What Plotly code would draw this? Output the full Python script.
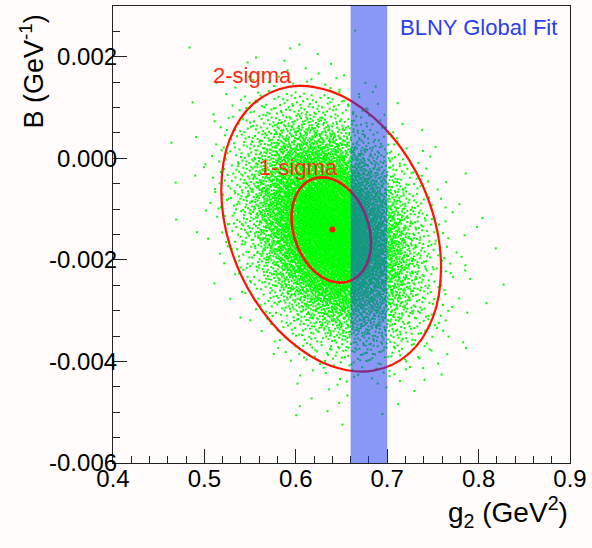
import math
import plotly.graph_objects as go

# ---------------- data ----------------
# Monte-Carlo cloud, estimated as point counts per cell (cell centres below)
G2_CELLS = [0.440, 0.465, 0.490, 0.515, 0.540, 0.565, 0.590, 0.615, 0.640,
            0.665, 0.690, 0.715, 0.740, 0.765, 0.790, 0.815, 0.840]
B_CELLS = [0.0026, 0.0021, 0.0016, 0.0011, 0.0006, 0.0001, -0.0004, -0.0009,
           -0.0014, -0.0019, -0.0024, -0.0029, -0.0034, -0.0039, -0.0044,
           -0.0049, -0.0054]
CELL_COUNTS = [
    [0, 0, 0, 0, 0, 0, 0, 0, 0, 1, 0, 0, 0, 0, 0, 0, 0],
    [0, 0, 1, 0, 1, 1, 2, 2, 1, 0, 0, 0, 0, 0, 0, 0, 0],
    [0, 0, 0, 1, 2, 4, 5, 5, 4, 2, 1, 0, 0, 0, 0, 0, 0],
    [0, 0, 1, 2, 7, 15, 22, 24, 18, 10, 4, 1, 0, 0, 0, 0, 0],
    [0, 0, 1, 5, 15, 34, 56, 66, 55, 33, 14, 4, 1, 0, 0, 0, 0],
    [0, 1, 1, 7, 25, 61, 111, 142, 130, 85, 39, 13, 3, 1, 0, 0, 0],
    [0, 1, 2, 8, 32, 87, 173, 242, 241, 171, 87, 31, 8, 2, 1, 0, 0],
    [0, 0, 1, 8, 33, 97, 210, 320, 348, 269, 149, 58, 17, 3, 1, 0, 0],
    [0, 1, 1, 6, 26, 85, 200, 332, 393, 332, 200, 85, 26, 6, 2, 1, 0],
    [0, 0, 0, 3, 17, 58, 149, 269, 348, 320, 210, 97, 33, 8, 2, 1, 0],
    [0, 0, 0, 1, 8, 31, 87, 171, 241, 242, 173, 87, 32, 8, 2, 1, 0],
    [0, 0, 0, 0, 3, 13, 39, 85, 130, 142, 111, 61, 25, 7, 2, 1, 0],
    [0, 0, 0, 0, 1, 4, 14, 33, 55, 66, 56, 34, 15, 5, 1, 0, 0],
    [0, 0, 0, 0, 0, 1, 4, 10, 18, 24, 22, 15, 7, 2, 1, 0, 0],
    [0, 0, 0, 0, 0, 0, 1, 2, 4, 5, 5, 4, 2, 1, 0, 0, 0],
    [0, 0, 0, 0, 0, 0, 1, 2, 2, 1, 1, 1, 0, 0, 0, 0, 0],
    [0, 0, 0, 0, 0, 0, 0, 0, 1, 0, 0, 0, 0, 0, 0, 0, 0],
]
CELL_W = 0.025
CELL_H = 0.0005

# contours
SIGMA2_G2 = [0.7589, 0.7498, 0.7237, 0.6847, 0.6387, 0.5927, 0.5537, 0.5276,
             0.5185, 0.5276, 0.5537, 0.5927, 0.6387, 0.6847, 0.7237, 0.7498,
             0.7589]
SIGMA2_B = [-0.002164, -0.003141, -0.003848, -0.004182, -0.004090, -0.003585,
            -0.002748, -0.001703, -0.000608, 0.000369, 0.001076, 0.001410,
            0.001318, 0.000813, -0.000024, -0.001070, -0.002164]
SIGMA1_G2 = [0.6823, 0.6790, 0.6696, 0.6554, 0.6388, 0.6222, 0.6080, 0.5986,
             0.5953, 0.5986, 0.6080, 0.6222, 0.6388, 0.6554, 0.6696, 0.6790,
             0.6823]
SIGMA1_B = [-0.001655, -0.002023, -0.002296, -0.002435, -0.002420, -0.002251,
            -0.001952, -0.001573, -0.001168, -0.000800, -0.000527, -0.000388,
            -0.000404, -0.000575, -0.000871, -0.001251, -0.001655]
BEST_G2 = [0.640]
BEST_B = [-0.0014]
BAND_G2 = [0.66, 0.70]

X_TICKS = [0.4, 0.5, 0.6, 0.7, 0.8, 0.9]
X_TICKTEXT = ["0.4", "0.5", "0.6", "0.7", "0.8", "0.9"]
Y_TICKS = [-0.006, -0.004, -0.002, 0.000, 0.002]
Y_TICKTEXT = ["-0.006", "-0.004", "-0.002", "0.000", "0.002"]


# ---------------- spread each cell's points inside the cell ----------------
def halton(i, base):
    f, r = 1.0, 0.0
    while i > 0:
        f /= base
        r += f * (i % base)
        i //= base
    return r


def tilt(u, g):
    """place u in [0,1] under a linear density 1 + g (t - 1/2)"""
    if abs(g) < 1e-6:
        return u
    a, b = g / 2.0, 1.0 - g / 2.0
    return (-b + math.sqrt(b * b + 4 * a * u)) / (2 * a)


def count(r, c):
    if 0 <= r < len(B_CELLS) and 0 <= c < len(G2_CELLS):
        return CELL_COUNTS[r][c]
    return 0


cloud_x, cloud_y = [], []
idx = 0
for r, bc in enumerate(B_CELLS):
    for c, gc in enumerate(G2_CELLS):
        n = CELL_COUNTS[r][c]
        if n == 0:
            continue
        gx = max(-1.8, min(1.8, (count(r, c + 1) - count(r, c - 1)) / (2.0 * n)))
        gy = max(-1.8, min(1.8, (count(r - 1, c) - count(r + 1, c)) / (2.0 * n)))
        for _ in range(n):
            idx += 1
            cloud_x.append(gc + (tilt(halton(idx, 2), gx) - 0.5) * CELL_W)
            cloud_y.append(bc + (tilt(halton(idx, 3), gy) - 0.5) * CELL_H)

FONT = "Liberation Sans, Arial, Helvetica, sans-serif"
BG = "#fffcfb"
RED = "#ff1400"

fig = go.Figure()
fig.add_trace(go.Scatter(x=cloud_x, y=cloud_y, mode="markers",
                         marker=dict(symbol="square", size=2, color="#00ff00",
                                     line=dict(width=0)),
                         hoverinfo="skip", showlegend=False))
fig.add_trace(go.Scatter(x=SIGMA2_G2, y=SIGMA2_B, mode="lines",
                         line=dict(color=RED, width=2.2, shape="spline"),
                         showlegend=False))
fig.add_trace(go.Scatter(x=SIGMA1_G2, y=SIGMA1_B, mode="lines",
                         line=dict(color=RED, width=2.6, shape="spline"),
                         showlegend=False))
fig.add_trace(go.Scatter(x=BEST_G2, y=BEST_B, mode="markers",
                         marker=dict(symbol="circle", size=6, color=RED),
                         showlegend=False))

fig.add_shape(type="rect", xref="x", yref="paper", x0=BAND_G2[0], x1=BAND_G2[1],
              y0=0, y1=1, line=dict(width=0), fillcolor="rgba(30,60,240,0.52)",
              layer="above")

fig.add_annotation(text="BLNY Global Fit", xref="paper", yref="paper",
                   x=(400 - 113) / 460, y=(463 - 27) / 458, xanchor="left",
                   yanchor="middle", showarrow=False,
                   font=dict(family=FONT, size=22, color="#2a40ee"))
fig.add_annotation(text="2-sigma", xref="paper", yref="paper",
                   x=(212 - 113) / 460, y=(463 - 75) / 458, xanchor="left",
                   yanchor="middle", showarrow=False,
                   font=dict(family=FONT, size=22, color="#ff2a10"))
fig.add_annotation(text="1-sigma", xref="paper", yref="paper",
                   x=(258 - 113) / 460, y=(463 - 167) / 458, xanchor="left",
                   yanchor="middle", showarrow=False,
                   font=dict(family=FONT, size=22, color="#ff2a10"))
fig.add_annotation(text="g<sub>2</sub> (GeV<sup>2</sup>)", xref="paper", yref="paper",
                   x=1.0, y=(463 - 512) / 458, xanchor="right", yanchor="middle",
                   showarrow=False, font=dict(family=FONT, size=28, color="black"))
fig.add_annotation(text="B (GeV<sup>-1</sup>)", xref="paper", yref="paper",
                   x=(31 - 113) / 460, y=(463 - 12) / 458, xanchor="center",
                   yanchor="top", textangle=-90, showarrow=False,
                   font=dict(family=FONT, size=27, color="black"))

axis_common = dict(showgrid=False, zeroline=False, showline=True,
                   linecolor="#222222", linewidth=1.2, mirror=True,
                   ticks="inside", tickcolor="#222222", tickwidth=1.2,
                   ticklen=14, tickfont=dict(family=FONT, size=24, color="black"))
fig.update_xaxes(range=[0.4, 0.9], tickvals=X_TICKS, ticktext=X_TICKTEXT,
                 ticklabelstandoff=-6,
                 minor=dict(ticks="inside", ticklen=7, tick0=0.4, dtick=0.02,
                            tickcolor="#222222", tickwidth=1.2, showgrid=False),
                 **axis_common)
fig.update_yaxes(range=[-0.006, 0.003], tickvals=Y_TICKS, ticktext=Y_TICKTEXT,
                 ticklabelstandoff=-10,
                 minor=dict(ticks="inside", ticklen=7, tick0=0.0, dtick=0.0005,
                            tickcolor="#222222", tickwidth=1.2, showgrid=False),
                 **axis_common)

fig.update_layout(width=592, height=548, autosize=False,
                  margin=dict(l=113, r=19, t=5, b=85),
                  paper_bgcolor=BG, plot_bgcolor=BG,
                  font=dict(family=FONT), showlegend=False)

fig.write_html("out.html")
